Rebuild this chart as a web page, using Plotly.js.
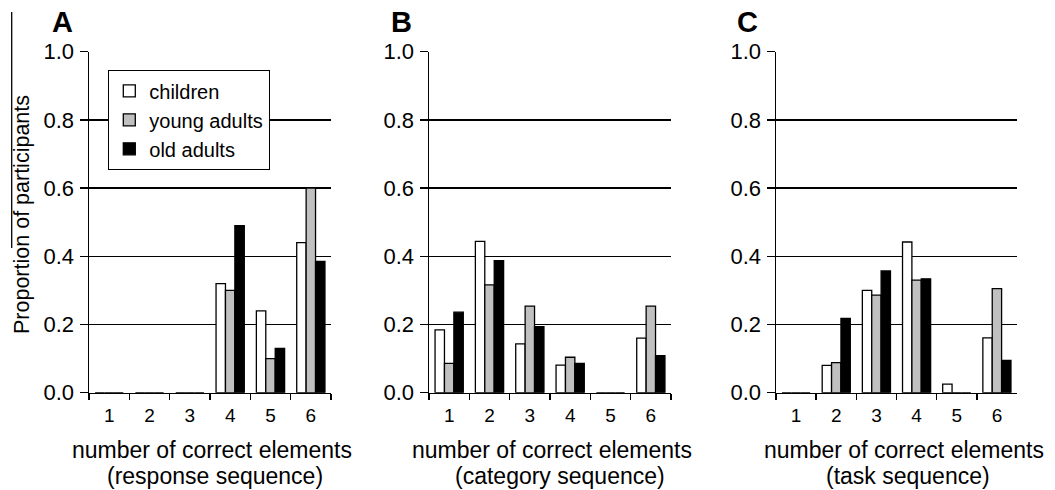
<!DOCTYPE html>
<html>
<head>
<meta charset="utf-8">
<script src="https://cdn.plot.ly/plotly-3.0.1.min.js"></script>
<style>html,body{margin:0;padding:0;background:#fff;}#chart{width:1055px;height:490px;}</style>
</head>
<body>
<div id="chart"></div>
<script>
// ---- data ----
const categories = ['1', '2', '3', '4', '5', '6'];
const groupNames = ['children', 'young adults', 'old adults'];
const panelLetters = ['A', 'B', 'C'];
const titleLine1 = 'number of correct elements';
const titleLine2 = ['(response sequence)', '(category sequence)', '(task sequence)'];
const yTitle = 'Proportion of participants';
const yTickVals = [0, 0.2, 0.4, 0.6, 0.8, 1.0];
const yTickText = ['0.0', '0.2', '0.4', '0.6', '0.8', '1.0'];

// panel A: response sequence
const respChildren = [0, 0, 0, 0.32, 0.24, 0.44];
const respYoung    = [0, 0, 0, 0.30, 0.10, 0.60];
const respOld      = [0, 0, 0, 0.49, 0.13, 0.385];
// panel B: category sequence
const catChildren  = [0.184, 0.444, 0.143, 0.081, 0, 0.16];
const catYoung     = [0.086, 0.316, 0.254, 0.104, 0, 0.254];
const catOld       = [0.236, 0.387, 0.194, 0.086, 0, 0.109];
// panel C: task sequence
const taskChildren = [0, 0.08, 0.30, 0.442, 0.025, 0.161];
const taskYoung    = [0, 0.088, 0.286, 0.33, 0, 0.305];
const taskOld      = [0, 0.218, 0.357, 0.334, 0, 0.095];

const panels = [
  [respChildren, respYoung, respOld],
  [catChildren, catYoung, catOld],
  [taskChildren, taskYoung, taskOld]
];

// ---- styling ----
const W = 1055, H = 490;
const FONT = 'Liberation Sans, Arial, sans-serif';
const fills = ['#ffffff', '#c0c0c0', '#000000'];
const xPix = [[89, 331], [429, 671], [776, 1017]];
const yTopPix = 51.7, yBotPix = 392.7;
const letterX = [62, 401, 747];
const t1X = [212, 552, 904];
const t2X = [215, 560, 908];

const traces = [];
panels.forEach((series, p) => {
  series.forEach((vals, g) => {
    traces.push({
      type: 'bar',
      name: groupNames[g],
      x: categories,
      y: vals,
      xaxis: p === 0 ? 'x' : 'x' + (p + 1),
      yaxis: p === 0 ? 'y' : 'y' + (p + 1),
      marker: {color: fills[g], line: {color: '#000', width: 1.3}},
      showlegend: p === 0,
      legendgroup: groupNames[g],
      hoverinfo: 'skip'
    });
  });
});

const layout = {
  width: W, height: H,
  margin: {l: 0, r: 0, t: 0, b: 0},
  paper_bgcolor: '#fff', plot_bgcolor: 'rgba(0,0,0,0)',
  font: {family: FONT, color: '#000'},
  barmode: 'group', bargap: 0.3, bargroupgap: 0,
  showlegend: true,
  legend: {
    x: 108 / W, y: 1 - 70 / H, xanchor: 'left', yanchor: 'top',
    bgcolor: '#fff', bordercolor: '#000', borderwidth: 1.3,
    font: {family: FONT, size: 20, color: '#000'},
    itemwidth: 30, tracegroupgap: 0, traceorder: 'normal'
  },
  annotations: [],
  shapes: [{
    type: 'line', xref: 'paper', yref: 'paper',
    x0: 11.7 / W, x1: 11.7 / W, y0: 1 - 12 / H, y1: 1 - 248 / H,
    line: {color: '#000', width: 1.3}
  }]
};

for (let p = 0; p < 3; p++) {
  const xa = p === 0 ? 'xaxis' : 'xaxis' + (p + 1);
  const ya = p === 0 ? 'yaxis' : 'yaxis' + (p + 1);
  const xn = p === 0 ? 'x' : 'x' + (p + 1);
  const yn = p === 0 ? 'y' : 'y' + (p + 1);
  layout[xa] = {
    domain: [xPix[p][0] / W, xPix[p][1] / W],
    anchor: yn, type: 'category', range: [-0.5, 5.5],
    showline: true, linecolor: '#000', linewidth: 1.5,
    ticks: 'outside', tickson: 'boundaries', ticklen: 6, tickwidth: 1.5, tickcolor: '#000',
    showgrid: false, zeroline: false,
    tickfont: {family: FONT, size: 19, color: '#000'},
    ticklabelstandoff: 5, fixedrange: true
  };
  layout[ya] = {
    domain: [1 - yBotPix / H, 1 - yTopPix / H],
    anchor: xn, range: [0, 1],
    tickvals: yTickVals, ticktext: yTickText,
    showline: true, linecolor: '#000', linewidth: 1.5,
    ticks: 'outside', ticklen: 8, tickwidth: 1.5, tickcolor: '#000',
    showgrid: true, gridcolor: '#000', gridwidth: 1.5,
    zeroline: false,
    tickfont: {family: FONT, size: 22, color: '#000'},
    ticklabelstandoff: 1,
    fixedrange: true
  };
  layout.annotations.push({
    text: '<b>' + panelLetters[p] + '</b>', xref: 'paper', yref: 'paper',
    x: letterX[p] / W, y: 1 - 22 / H, xanchor: 'center', yanchor: 'middle',
    showarrow: false, font: {family: FONT, size: 29, color: '#000'}
  });
  layout.annotations.push({
    text: titleLine1, xref: 'paper', yref: 'paper',
    x: t1X[p] / W, y: 1 - 450 / H, xanchor: 'center', yanchor: 'middle',
    showarrow: false, font: {family: FONT, size: 23, color: '#000'}
  });
  layout.annotations.push({
    text: titleLine2[p], xref: 'paper', yref: 'paper',
    x: t2X[p] / W, y: 1 - 476 / H, xanchor: 'center', yanchor: 'middle',
    showarrow: false, font: {family: FONT, size: 23, color: '#000'}
  });
}
layout.annotations.push({
  text: yTitle, xref: 'paper', yref: 'paper',
  x: 22 / W, y: 1 - 215 / H, xanchor: 'center', yanchor: 'middle',
  textangle: -90, showarrow: false, font: {family: FONT, size: 21.5, color: '#000'}
});

Plotly.newPlot('chart', traces, layout, {displayModeBar: false, staticPlot: true});
</script>
</body>
</html>
